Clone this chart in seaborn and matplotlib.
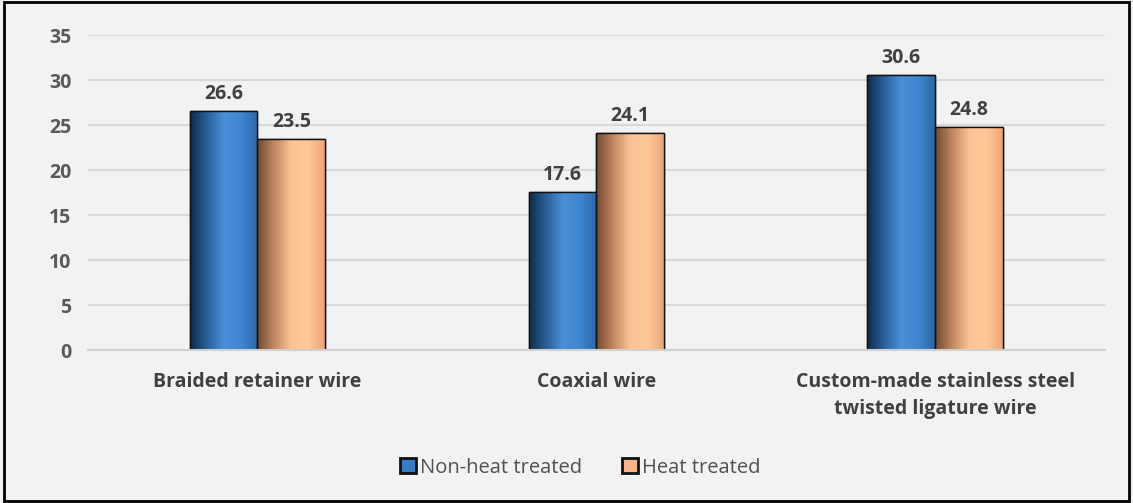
import numpy as np
import pandas as pd
import seaborn as sns
import matplotlib.pyplot as plt
from matplotlib.colors import LinearSegmentedColormap
from matplotlib.patches import Rectangle

categories = ["Braided retainer wire", "Coaxial wire",
              "Custom-made stainless steel\ntwisted ligature wire"]
series = ["Non-heat treated", "Heat treated"]
non_heat = [26.6, 17.6, 30.6]
heat = [23.5, 24.1, 24.8]
yticks = [0, 5, 10, 15, 20, 25, 30, 35]

df = pd.DataFrame({
    "category": categories * 2,
    "series": [series[0]] * 3 + [series[1]] * 3,
    "value": non_heat + heat,
})

sns.set_theme(style="white")
plt.rcParams["font.family"] = ["Open Sans", "DejaVu Sans"]

fig = plt.figure(figsize=(11.33, 5.03), dpi=100)
fig.patch.set_facecolor("#f2f2f2")
ax = fig.add_axes([0.0777, 0.304, 0.8973, 0.626])
ax.set_facecolor("#f2f2f2")

palette = {series[0]: "#3a7bc8", series[1]: "#f6b58a"}
sns.barplot(data=df, x="category", y="value", hue="series", palette=palette,
            width=0.4, gap=0, ax=ax, edgecolor="#111111", linewidth=1.0,
            saturation=1, legend=True, errorbar=None)

cmaps = {
    series[0]: LinearSegmentedColormap.from_list(
        "b", ["#0f2a47", "#2a5f9a", "#4a8fd8", "#3f86d0", "#2c67a8"]),
    series[1]: LinearSegmentedColormap.from_list(
        "o", ["#6e4a32", "#c08660", "#fbc394", "#ffc898", "#eea57a"]),
}

grad = np.linspace(0, 1, 256).reshape(1, -1)
for cont, s in zip(ax.containers, series):
    for bar in cont:
        x0, y0 = bar.get_x(), bar.get_y()
        w, h = bar.get_width(), bar.get_height()
        im = ax.imshow(grad, extent=[x0, x0 + w, y0, y0 + h], aspect="auto",
                       cmap=cmaps[s], zorder=bar.get_zorder() + 0.1,
                       interpolation="bicubic")
        im.set_clip_path(bar)
        edge = Rectangle((x0, y0), w, h, fill=False, edgecolor="#111111",
                         linewidth=1.0, zorder=bar.get_zorder() + 0.2)
        ax.add_patch(edge)
    ax.bar_label(cont, fmt="%.1f", padding=5, fontsize=14, fontweight="bold",
                 color="#404040")

ax.set_xlim(-0.5, 2.5)
ax.set_ylim(0, 35)
ax.set_yticks(yticks)
ax.yaxis.grid(True, color="#d9d9d9", linewidth=1.5)
ax.set_axisbelow(True)
for sp in ["top", "right", "left"]:
    ax.spines[sp].set_visible(False)
ax.spines["bottom"].set_color("#d0d0d0")
ax.spines["bottom"].set_linewidth(1.5)
ax.tick_params(axis="both", length=0)
ax.tick_params(axis="y", pad=12)
ax.tick_params(axis="x", pad=16)
for lab in ax.get_yticklabels():
    lab.set_fontsize(14)
    lab.set_fontweight("bold")
    lab.set_color("#595959")
for lab in ax.get_xticklabels():
    lab.set_fontsize(14)
    lab.set_fontweight("bold")
    lab.set_color("#404040")
    lab.set_linespacing(1.45)
ax.set_xlabel("")
ax.set_ylabel("")

handles = [Rectangle((0, 0), 1, 1, facecolor="#3a7bc8", edgecolor="#111111", linewidth=2),
           Rectangle((0, 0), 1, 1, facecolor="#f6b58a", edgecolor="#111111", linewidth=2)]
ax.legend(handles, series, loc="center", bbox_to_anchor=(0.512, 0.07),
          bbox_transform=fig.transFigure, ncol=2, frameon=False,
          prop={"size": 14.5, "weight": "medium"}, labelcolor="#505050",
          handlelength=0.8, handleheight=0.8, handletextpad=0.2,
          columnspacing=2.0)

fig.patches.append(Rectangle((0.0035, 0.004), 0.993, 0.992, transform=fig.transFigure,
                             fill=False, edgecolor="black", linewidth=2))

fig.savefig("out.png", dpi=100, facecolor=fig.get_facecolor())
